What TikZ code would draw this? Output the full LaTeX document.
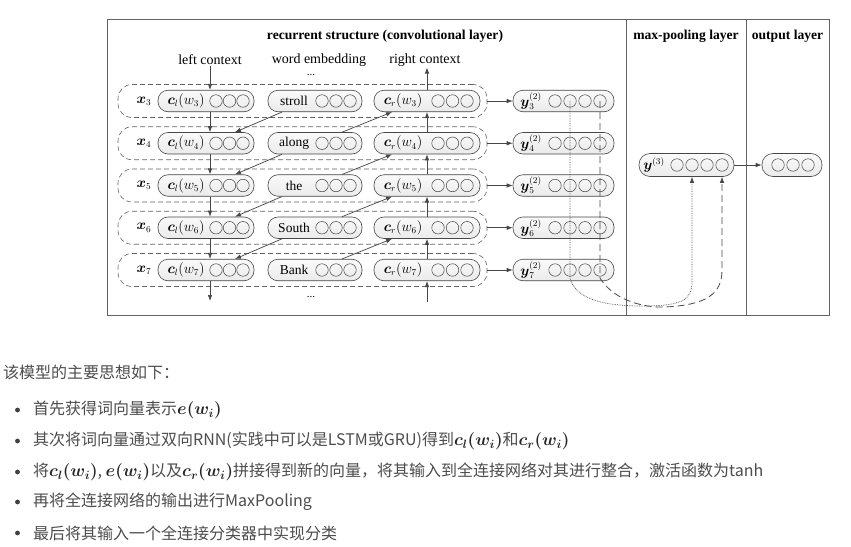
\documentclass[tikz,border=0pt]{standalone}
\usepackage{amsmath,amssymb}
\usepackage{fontspec}
\setmainfont{Liberation Serif}
\newfontfamily\cjk{Noto Sans CJK SC}
\usetikzlibrary{arrows.meta,calc}
\definecolor{ln}{HTML}{474747}
\definecolor{txt}{HTML}{4D4D4D}
\newcommand\mth[1]{{\fontsize{17.5}{17}\selectfont\color{black!85}\boldmath$#1$}}
\begin{document}
\begin{tikzpicture}[x=1pt,y=-1pt,
 pill/.style={draw=ln, top color=black!2, bottom color=black!8, rounded corners=10pt, minimum height=21.5pt, inner sep=0pt, line width=0.6pt},
 circ/.style={draw=ln, circle, minimum size=12.5pt, inner sep=0pt, line width=0.5pt},
 rowbox/.style={draw=ln!85, dash pattern=on 5pt off 3pt, rounded corners=14pt, minimum width=369pt, minimum height=33pt, line width=0.6pt},
 arr/.style={-{Latex[length=6pt,width=4.5pt]}, draw=ln, line width=0.7pt},
 lab/.style={font=\fontsize{13.5}{14}\selectfont, inner sep=0pt},
 head/.style={font=\bfseries\fontsize{13.6}{14}\selectfont, inner sep=0pt},
 ctx/.style={font=\fontsize{14}{14}\selectfont, inner sep=1pt},
 cn/.style={font=\cjk\fontsize{16}{16}\selectfont, text=txt, inner sep=0pt, anchor=west},
 bul/.style={fill=black!75}
 ]
\useasboundingbox (0,0) rectangle (851,546);
\fill[white] (0,0) rectangle (851,546);
% frame
\draw[ln!85, line width=0.7pt] (107,19) rectangle (829,315);
\draw[ln!85, line width=0.7pt] (626,19) -- (626,315);
\draw[ln!85, line width=0.7pt] (746,19) -- (746,315);
\node[head] (t1) at (385,36) {recurrent structure (convolutional layer)};
\node[head] (t2) at (686,36) {max-pooling layer};
\node[head] (t3) at (787.5,36) {output layer};
\node[ctx] (lctx) at (210,60) {left context};
\node[ctx] (wemb) at (319,60) {word embedding};
\node[ctx] (rctx) at (425,60) {right context};
\node[lab, font=\fontsize{11}{11}\selectfont] (dots1) at (311,75) {...};
\node[lab, font=\fontsize{11}{11}\selectfont] (dots2) at (311,297) {...};
% rows
\foreach \i/\w in {3/stroll,4/along,5/the,6/South,7/Bank}{
  \pgfmathsetmacro\yc{101+(\i-3)*42.25}
  \node[rowbox] (r\i) at (302.5,\yc) {};
  \node[lab] (xl\i) at (144,\yc) {$\boldsymbol{x}_{\i}$};
  \node[pill, minimum width=96pt] (cl\i) at (206,\yc) {};
  \node[lab] (clt\i) at (186,\yc) {$\boldsymbol{c}_l(w_{\i})$};
  \foreach \cx in {216,229.5,243} \node[circ] at (\cx,\yc) {};
  \node[pill, minimum width=94pt] (w\i) at (315,\yc) {};
  \node[lab] (wt\i) at (294,\yc) {\w};
  \foreach \cx in {322,336,350} \node[circ] at (\cx,\yc) {};
  \node[pill, minimum width=106pt] (cr\i) at (427,\yc) {};
  \node[lab] (crt\i) at (403,\yc) {$\boldsymbol{c}_r(w_{\i})$};
  \foreach \cx in {438,452.5,467} \node[circ] at (\cx,\yc) {};
  \node[pill, minimum width=101pt] (y\i) at (563.5,\yc) {};
  \node[lab] (yt\i) at (531,\yc) {$\boldsymbol{y}_{\i}^{(2)}$};
  \foreach \cx in {555,570,585,600} \node[circ] at (\cx,\yc) {};
  \draw[arr] (r\i.east) -- (y\i.west);
}
% vertical context arrows
\draw[arr] (lctx.south) -- ([xshift=4pt]cl3.north);
\draw[arr] (cr3.north) -- (cr3.north |- rctx.south);
\foreach \i/\j in {3/4,4/5,5/6,6/7}{
  \draw[arr] ([xshift=4pt]cl\i.south) -- ([xshift=4pt]cl\j.north);
  \draw[arr] (cr\j.north) -- (cr\i.south);
  \draw[arr] ([xshift=-33pt]w\i.south) -- ([xshift=29pt]cl\j.north);
  \draw[arr] ([xshift=27pt]w\j.north) -- ([xshift=-35pt]cr\i.south);
}
\coordinate (lend) at (210,301);
\coordinate (rbeg) at (427,302);
\draw[arr] ([xshift=4pt]cl7.south) -- (lend);
\draw[arr] (rbeg) -- (cr7.south);
% max pooling and output
\node[pill, minimum width=95pt, minimum height=23pt, rounded corners=11pt] (yp) at (686.5,165) {};
\node[lab] (ypt) at (654,165) {$\boldsymbol{y}^{(3)}$};
\foreach \cx in {677,692,707,722} \node[circ] at (\cx,165) {};
\node[pill, minimum width=60pt, minimum height=23pt, rounded corners=11pt] (out) at (792,165) {};
\foreach \cx in {778,793,808} \node[circ] at (\cx,165) {};
\draw[arr] (yp.east) -- (out.west);
% pooling paths
\coordinate (dots) at (570,101);
\coordinate (dsh) at (600,101);
\draw[ln, densely dotted, line width=0.7pt, -{Latex[length=6pt,width=4.5pt]}] (dots) -- (570,278) .. controls (576,302) and (612,306) .. (643,306) .. controls (682,306) and (692,300) .. (692,282) -- ([xshift=5.5pt]yp.south);
\draw[ln, dash pattern=on 7pt off 4pt, line width=0.8pt, -{Latex[length=6pt,width=4.5pt]}] (dsh) -- (600,278) .. controls (612,298) and (640,308) .. (665,307) .. controls (705,305) and (722,295) .. (722,270) -- ([xshift=35.5pt]yp.south);
% Chinese text
\node[cn] (l0) at (3,372) {该模型的主要思想如下：};
\foreach \yy in {410,441,472,502,533} \fill[bul] (17.5,\yy) circle (2.4pt);
\node[cn] (l1) at (33,410) {首先获得词向量表示\mth{e(w_i)}};
\node[cn] (l2) at (33,441) {其次将词向量通过双向RNN(实践中可以是LSTM或GRU)得到\mth{c_l(w_i)}和\mth{c_r(w_i)}};
\node[cn] (l3) at (33,472) {将\mth{c_l(w_i)}, \mth{e(w_i)}以及\mth{c_r(w_i)}拼接得到新的向量，将其输入到全连接网络对其进行整合，激活函数为tanh};
\node[cn] (l4) at (33,502) {再将全连接网络的输出进行MaxPooling};
\node[cn] (l5) at (33,533) {最后将其输入一个全连接分类器中实现分类};
\end{tikzpicture}
\end{document}
